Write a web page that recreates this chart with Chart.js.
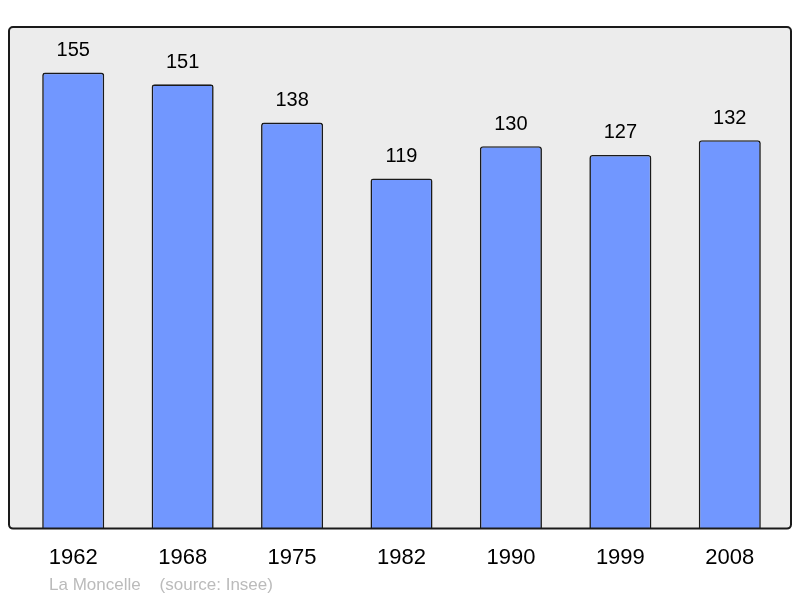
<!DOCTYPE html>
<html><head><meta charset="utf-8">
<script src="https://cdn.jsdelivr.net/npm/chart.js@4"></script>
<style>
html,body{margin:0;padding:0;background:#fff;}
#wrap{position:relative;width:800px;height:598px;}
#foot{position:absolute;left:49px;top:575px;font:17px "Liberation Sans",Arial,sans-serif;color:#bbbbbb;white-space:pre;}
</style></head>
<body><div id="wrap"><canvas id="c" width="800" height="598"></canvas><div id="foot">La Moncelle    (source: Insee)</div></div>
<script>
const years = ["1962","1968","1975","1982","1990","1999","2008"];
const population = [155,151,138,119,130,127,132];

const frame = {
  id:'frame',
  beforeDraw(chart){
    const ctx = chart.ctx, a = chart.chartArea;
    const x0=9, x1=791, y0=a.top, y1=a.bottom;
    ctx.save();
    ctx.beginPath();
    ctx.roundRect(x0,y0,x1-x0,y1-y0,4);
    ctx.fillStyle='#ececec';
    ctx.fill();
    ctx.restore();
  },
  afterDatasetsDraw(chart){
    const ctx = chart.ctx, a = chart.chartArea;
    const x0=9, x1=791, y0=a.top, y1=a.bottom;
    ctx.save();
    ctx.beginPath();
    ctx.roundRect(x0,y0,x1-x0,y1-y0,4);
    ctx.lineWidth=2;
    ctx.strokeStyle='#1a1a1a';
    ctx.stroke();
    const meta = chart.getDatasetMeta(0);
    ctx.fillStyle='#000';
    ctx.font='20px "Liberation Sans", Arial, sans-serif';
    ctx.textAlign='center';
    ctx.textBaseline='middle';
    meta.data.forEach((bar,i)=>{
      ctx.fillText(String(population[i]), bar.x, bar.y-22);
    });
    ctx.restore();
  }
};

new Chart(document.getElementById('c'),{
  type:'bar',
  data:{labels:years,datasets:[{data:population,backgroundColor:'#7197ff',borderColor:'#1a1a1a',borderWidth:1.6,borderRadius:3,borderSkipped:'bottom',barPercentage:0.567,categoryPercentage:1}]},
  options:{
    responsive:false,animation:false,
    layout:{padding:{left:18.5,right:15.5,top:27,bottom:11}},
    plugins:{legend:{display:false},tooltip:{enabled:false}},
    scales:{
      x:{grid:{display:false,drawTicks:false},border:{display:false},
         ticks:{color:'#000',padding:16,font:{family:'"Liberation Sans", Arial, sans-serif',size:22}}},
      y:{display:false,min:0,max:170.5}
    }
  },
  plugins:[frame]
});
</script></body></html>
